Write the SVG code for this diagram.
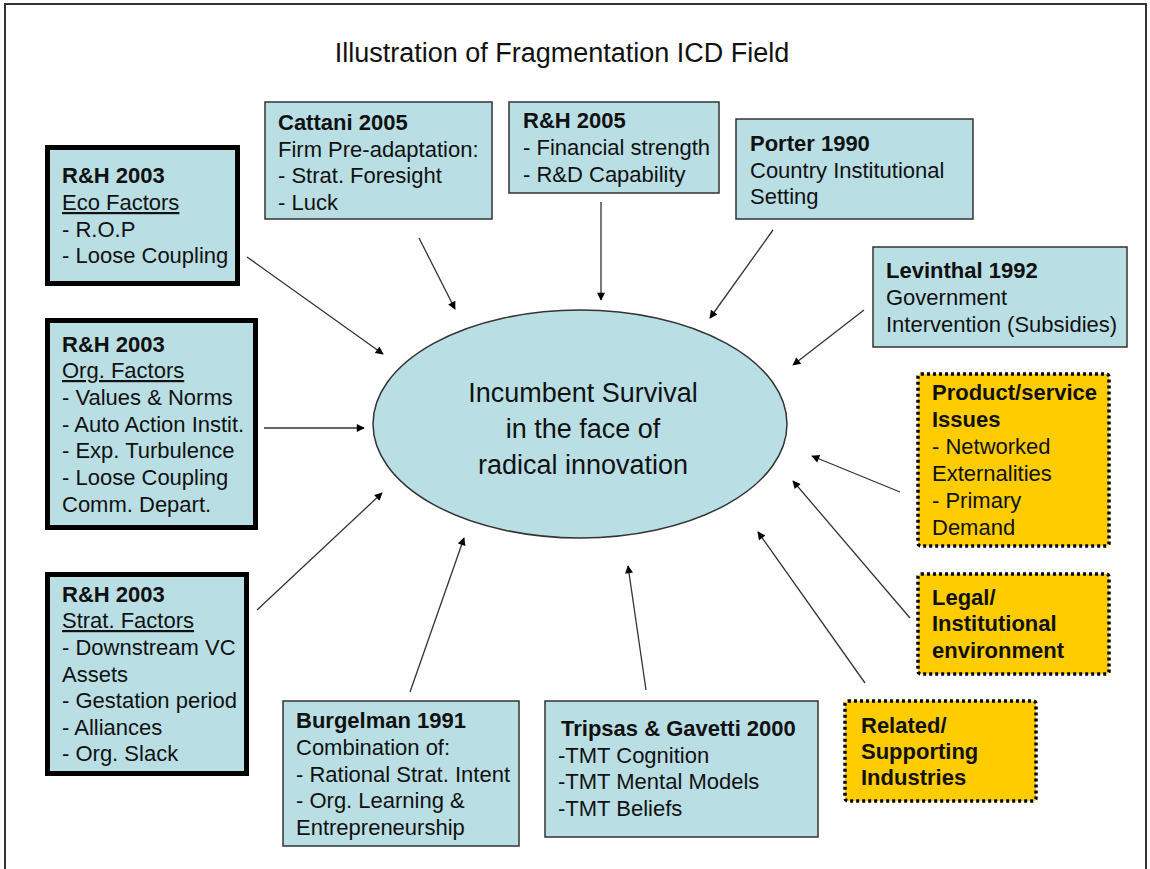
<svg xmlns="http://www.w3.org/2000/svg" width="1150" height="869" viewBox="0 0 1150 869">
<defs>
<style>
text{font-family:"Liberation Sans",Arial,sans-serif;fill:#111;font-size:22px}
.b{font-weight:bold}
.u{text-decoration:underline}
.title{font-size:27px;text-anchor:middle}
.ctr{font-size:27px;text-anchor:middle}
.box{fill:#B9DFE4;stroke:#333;stroke-width:1.5}
.thick{fill:#B9DFE4;stroke:#000;stroke-width:5}
.dot{fill:#FFCC00;stroke:#000;stroke-width:3.5;stroke-dasharray:3 3}
.con line{stroke:#333;stroke-width:1.3;marker-end:url(#ah)}
</style>
<marker id="ah" viewBox="0 0 10 10" refX="9" refY="5" markerWidth="10" markerHeight="8" markerUnits="userSpaceOnUse" orient="auto">
<path d="M0,0 L10,5 L0,10 z" fill="#000"/>
</marker>
</defs>
<rect x="0" y="0" width="1150" height="869" fill="#fff"/>
<rect x="5" y="4" width="1141" height="880" fill="none" stroke="#333" stroke-width="2"/>
<text class="title" x="562" y="62">Illustration of Fragmentation ICD Field</text>

<g id="center">
<ellipse cx="580" cy="424" rx="207" ry="114" fill="#B9DFE4" stroke="#333" stroke-width="1.5"/>
<text class="ctr" x="583" y="402">Incumbent Survival</text>
<text class="ctr" x="583" y="438">in the face of</text>
<text class="ctr" x="583" y="474">radical innovation</text>
</g>

<g id="rh2003eco">
<rect class="thick" x="47.5" y="147.5" width="190" height="136"/>
<text class="b" x="62" y="183">R&amp;H 2003</text>
<text class="u" x="62" y="210">Eco Factors</text>
<text x="62" y="237">- R.O.P</text>
<text x="62" y="263">- Loose Coupling</text>
</g>

<g id="cattani">
<rect class="box" x="265" y="102" width="227" height="117"/>
<text class="b" x="278" y="130">Cattani 2005</text>
<text x="278" y="157">Firm Pre-adaptation:</text>
<text x="278" y="183">- Strat. Foresight</text>
<text x="278" y="210">- Luck</text>
</g>

<g id="rh2005">
<rect class="box" x="509" y="102" width="210" height="91"/>
<text class="b" x="523" y="128">R&amp;H 2005</text>
<text x="523" y="155">- Financial strength</text>
<text x="523" y="182">- R&amp;D Capability</text>
</g>

<g id="porter">
<rect class="box" x="736" y="119" width="237" height="100"/>
<text class="b" x="750" y="151">Porter 1990</text>
<text x="750" y="178">Country Institutional</text>
<text x="750" y="204">Setting</text>
</g>

<g id="levinthal">
<rect class="box" x="873" y="247" width="254" height="100"/>
<text class="b" x="886" y="278">Levinthal 1992</text>
<text x="886" y="305">Government</text>
<text x="886" y="332">Intervention (Subsidies)</text>
</g>

<g id="product">
<rect class="dot" x="918" y="374" width="191" height="172" rx="3"/>
<text class="b" x="932" y="400">Product/service</text>
<text class="b" x="932" y="427">Issues</text>
<text x="932" y="454">- Networked</text>
<text x="932" y="481">Externalities</text>
<text x="932" y="508">- Primary</text>
<text x="932" y="535">Demand</text>
</g>

<g id="legal">
<rect class="dot" x="918" y="574" width="191" height="100" rx="3"/>
<text class="b" x="932" y="605">Legal/</text>
<text class="b" x="932" y="631">Institutional</text>
<text class="b" x="932" y="658">environment</text>
</g>

<g id="related">
<rect class="dot" x="845" y="701" width="191" height="100" rx="3"/>
<text class="b" x="861" y="733">Related/</text>
<text class="b" x="861" y="759">Supporting</text>
<text class="b" x="861" y="785">Industries</text>
</g>

<g id="tripsas">
<rect class="box" x="545" y="701" width="273" height="136"/>
<text class="b" x="561" y="736">Tripsas &amp; Gavetti 2000</text>
<text x="558" y="763">-TMT Cognition</text>
<text x="558" y="789">-TMT Mental Models</text>
<text x="558" y="816">-TMT Beliefs</text>
</g>

<g id="burgelman">
<rect class="box" x="283" y="701" width="236" height="145"/>
<text class="b" x="296" y="728">Burgelman 1991</text>
<text x="296" y="755">Combination of:</text>
<text x="296" y="782">- Rational Strat. Intent</text>
<text x="296" y="808">- Org. Learning &amp;</text>
<text x="296" y="835">Entrepreneurship</text>
</g>

<g id="rh2003strat">
<rect class="thick" x="47.5" y="574.5" width="199" height="199"/>
<text class="b" x="62" y="602">R&amp;H 2003</text>
<text class="u" x="62" y="628">Strat. Factors</text>
<text x="62" y="655">- Downstream VC</text>
<text x="62" y="682">Assets</text>
<text x="62" y="708">- Gestation period</text>
<text x="62" y="735">- Alliances</text>
<text x="62" y="761">- Org. Slack</text>
</g>

<g id="rh2003org">
<rect class="thick" x="47.5" y="320.5" width="208" height="207"/>
<text class="b" x="62" y="352">R&amp;H 2003</text>
<text class="u" x="62" y="378">Org. Factors</text>
<text x="62" y="405">- Values &amp; Norms</text>
<text x="62" y="432">- Auto Action Instit.</text>
<text x="62" y="458">- Exp. Turbulence</text>
<text x="62" y="485">- Loose Coupling</text>
<text x="62" y="512">Comm. Depart.</text>
</g>

<g id="connectors" class="con">
<line x1="247" y1="257" x2="383" y2="354"/>
<line x1="419" y1="238" x2="455" y2="309"/>
<line x1="601" y1="202" x2="601" y2="300"/>
<line x1="773" y1="230" x2="710" y2="318"/>
<line x1="864" y1="310" x2="793" y2="365"/>
<line x1="264" y1="428" x2="364" y2="428"/>
<line x1="257" y1="610" x2="382" y2="493"/>
<line x1="410" y1="692" x2="464" y2="538"/>
<line x1="646" y1="690" x2="628" y2="566"/>
<line x1="865" y1="683" x2="758" y2="532"/>
<line x1="910" y1="618" x2="793" y2="481"/>
<line x1="900" y1="492" x2="812" y2="456"/>
</g>
</svg>
